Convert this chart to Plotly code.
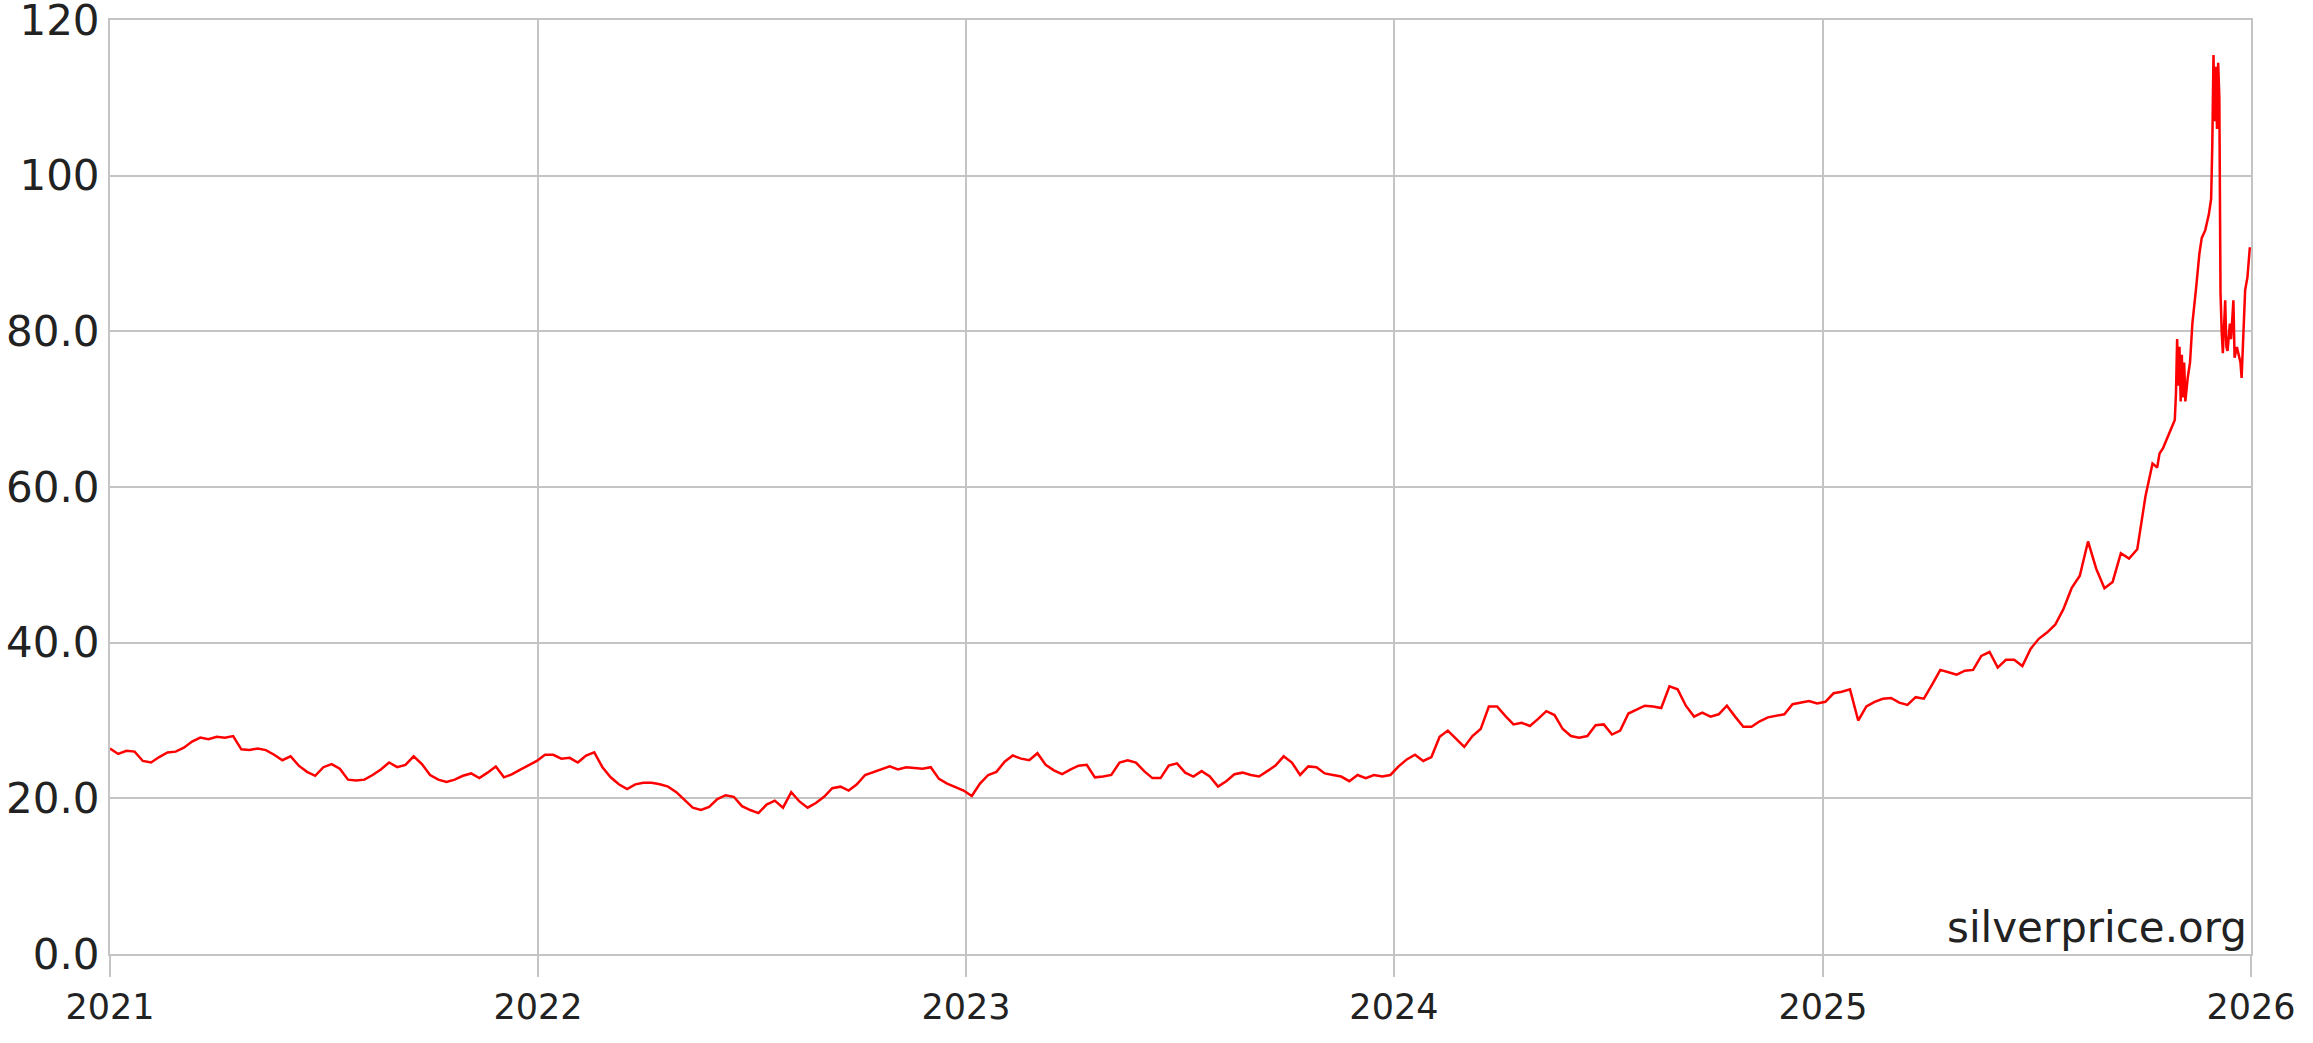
import pandas as pd
import plotly.graph_objects as go

# weekly silver price (USD/oz), one value per week from 2021-01-01
weekly_start = "2021-01-01"
weekly_prices = [
    # 2021
    26.4, 25.7, 26.1, 26.0, 24.8, 24.6, 25.3, 25.9, 26.0, 26.5,
    27.3, 27.8, 27.6, 27.9, 27.8, 28.0, 26.3, 26.2, 26.4, 26.2,
    25.6, 24.9, 25.4, 24.2, 23.4, 22.9, 24.0, 24.4, 23.8, 22.4,
    22.3, 22.4, 23.0, 23.7, 24.6, 24.0, 24.3, 25.4, 24.4, 23.0,
    22.4, 22.1, 22.4, 22.9, 23.2, 22.6, 23.3, 24.1, 22.7, 23.1,
    23.7, 24.2,
    # 2022
    24.8, 25.6, 25.6, 25.1, 25.2, 24.6, 25.5, 25.9, 24.0, 22.7,
    21.8, 21.2, 21.8, 22.0, 22.0, 21.8, 21.5, 20.8, 19.8, 18.8,
    18.5, 18.9, 19.9, 20.4, 20.2, 19.0, 18.5, 18.1, 19.2, 19.7,
    18.8, 20.8, 19.6, 18.8, 19.4, 20.2, 21.3, 21.5, 21.0, 21.8,
    23.0, 23.4, 23.7, 24.1, 23.7, 24.0, 23.9, 23.8, 24.0, 22.5,
    21.9, 21.5,
    # 2023
    21.0, 20.3, 21.9, 23.0, 23.4, 24.7, 25.5, 25.1, 24.9, 25.8,
    24.3, 23.6, 23.1, 23.7, 24.2, 24.3, 22.7, 22.8, 23.0, 24.6,
    24.9, 24.6, 23.5, 22.6, 22.6, 24.2, 24.5, 23.3, 22.8, 23.5,
    22.8, 21.5, 22.2, 23.1, 23.3, 23.0, 22.8, 23.5, 24.2, 25.4,
    24.6, 23.0, 24.1, 24.0, 23.2, 23.0, 22.8, 22.2, 23.0, 22.6,
    23.0, 22.8,
    # 2024
    23.0, 24.1, 25.0, 25.6, 24.8, 25.3, 27.9, 28.7, 27.6, 26.6,
    28.0, 28.9, 31.8, 31.8, 30.6, 29.5, 29.7, 29.3, 30.2, 31.2,
    30.7, 28.9, 28.0, 27.8, 28.0, 29.4, 29.5, 28.2, 28.7, 30.9,
    31.4, 31.9, 31.8, 31.6, 34.4, 34.0, 31.9, 30.5, 31.0, 30.5,
    30.8, 31.9, 30.5, 29.2, 29.2, 29.9, 30.4, 30.6, 30.8, 32.1,
    32.3, 32.5,
    # 2025 up to early October
    32.2, 32.4, 33.5, 33.7, 34.0, 30.0, 31.8, 32.4, 32.8, 32.9,
    32.3, 32.0, 33.0, 32.8, 34.6, 36.5, 36.2, 35.9, 36.4, 36.5,
    38.3, 38.8, 36.8, 37.8, 37.8, 37.0, 39.2, 40.5, 41.3, 42.3,
    44.3, 47.0, 48.6, 53.0, 49.5, 47.0, 47.8, 51.5, 50.8, 52.0,
    58.8,
]

# the volatile end of 2025, read at a finer step
late_dates = [
    "2025-10-06", "2025-10-09", "2025-10-13", "2025-10-15", "2025-10-18",
    "2025-10-22", "2025-10-25", "2025-10-28", "2025-10-29", "2025-10-30",
    "2025-10-31", "2025-11-01", "2025-11-02", "2025-11-03", "2025-11-04",
    "2025-11-05", "2025-11-06", "2025-11-08", "2025-11-10", "2025-11-12",
    "2025-11-15", "2025-11-18", "2025-11-20", "2025-11-23", "2025-11-26",
    "2025-11-28", "2025-11-29", "2025-11-30", "2025-12-01", "2025-12-02",
    "2025-12-03", "2025-12-04", "2025-12-05", "2025-12-06", "2025-12-07",
    "2025-12-08", "2025-12-10", "2025-12-11", "2025-12-12", "2025-12-14",
    "2025-12-15", "2025-12-17", "2025-12-18", "2025-12-20", "2025-12-21",
    "2025-12-23", "2025-12-24", "2025-12-25", "2025-12-27", "2025-12-29",
    "2025-12-31",
]
late_prices = [
    61.0, 63.0, 62.5, 64.3, 65.0,
    66.4, 67.5, 68.6, 72.0, 79.0,
    73.0, 78.0, 71.0, 77.0, 71.5,
    76.0, 71.0, 74.0, 76.0, 81.0,
    85.3, 90.0, 92.0, 93.0, 95.0,
    97.0, 104.0, 115.5, 107.0, 114.0,
    106.0, 114.5, 110.0, 85.0, 80.0,
    77.2, 84.0, 78.0, 77.5, 81.0,
    79.0, 84.0, 76.6, 78.0, 77.3,
    76.0, 74.0, 78.0, 85.3, 87.0,
    90.8,
]

year_ticks = ["2021-01-01", "2022-01-01", "2023-01-01", "2024-01-01", "2025-01-01", "2026-01-01"]
year_labels = ["2021", "2022", "2023", "2024", "2025", "2026"]
price_ticks = [0, 20, 40, 60, 80, 100, 120]
price_labels = ["0.0", "20.0", "40.0", "60.0", "80.0", "100", "120"]

weekly_dates = pd.date_range(weekly_start, periods=len(weekly_prices), freq="7D")
dates = list(weekly_dates) + list(pd.to_datetime(late_dates))
prices = weekly_prices + late_prices

grid = "#c4c4c4"
ink = "#222222"

fig = go.Figure()
fig.add_trace(go.Scatter(
    x=dates, y=prices,
    mode="lines",
    line=dict(color="#ff0000", width=2.5),
    hoverinfo="x+y",
    showlegend=False,
))

fig.add_annotation(
    text="silverprice.org",
    xref="paper", yref="paper", x=1, y=0,
    xanchor="right", yanchor="bottom",
    xshift=-2, yshift=0,
    showarrow=False,
    font=dict(family="DejaVu Sans", size=42, color=ink),
)

fig.update_layout(
    width=2313, height=1043,
    margin=dict(l=110, r=62, t=20, b=89),
    plot_bgcolor="white",
    paper_bgcolor="white",
    font=dict(family="DejaVu Sans", color=ink),
    xaxis=dict(
        type="date",
        range=["2021-01-01", "2026-01-01"],
        tickvals=year_ticks, ticktext=year_labels,
        tickfont=dict(size=35, color=ink),
        showgrid=True, gridcolor=grid, gridwidth=2,
        ticks="outside", ticklen=21, tickwidth=2, tickcolor=grid,
        showline=True, linecolor=grid, linewidth=2, mirror=True,
        zeroline=False,
        automargin=False,
        ticklabeloverflow="allow",
    ),
    yaxis=dict(
        range=[0, 120],
        tickvals=price_ticks, ticktext=price_labels,
        tickfont=dict(size=42, color=ink),
        showgrid=True, gridcolor=grid, gridwidth=2,
        ticks="",
        showline=True, linecolor=grid, linewidth=2, mirror=True,
        zeroline=False,
        automargin=False,
        ticklabeloverflow="allow",
    ),
)

# drop the default 8px page margin so the chart sits flush in the window
fig.write_html(
    "out.html",
    config={"displayModeBar": False},
    post_script="document.body.style.margin='0';",
)
